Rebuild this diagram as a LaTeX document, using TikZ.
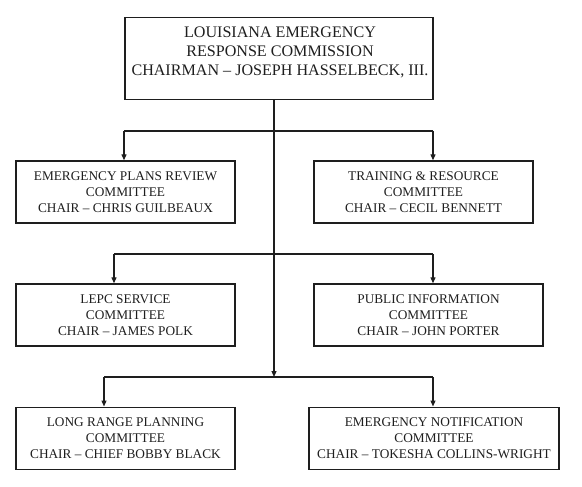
\documentclass[tikz,border=0pt]{standalone}
\usepackage{fontspec}
\setmainfont{Liberation Serif}
\usetikzlibrary{arrows.meta}
\definecolor{ink}{HTML}{1E1E1E}
\begin{document}
\begin{tikzpicture}[x=1pt,y=-1pt,
  box/.style={draw=ink,line width=1.4pt,inner sep=0pt,align=center,
    font=\fontsize{13.3}{16}\selectfont,text=ink,minimum height=62pt},
  link/.style={draw=ink,line width=1.2pt},
  arr/.style={link,-{Triangle[length=6pt,width=5pt]}}]
\useasboundingbox (0,0) rectangle (582,487);
% top box
\node[draw=ink,line width=1.4pt,inner sep=0pt,minimum width=308pt,minimum height=82pt] (top) at (279,58.8) {};
\node[font=\fontsize{16.1}{19}\selectfont,align=center,text=ink,inner sep=0pt,anchor=north] (toptext) at (280,27)
  {LOUISIANA EMERGENCY\\RESPONSE COMMISSION\\CHAIRMAN -- JOSEPH HASSELBECK, III.};
% committees
\node[box,minimum width=219pt] (epr) at (125.5,192)
  {EMERGENCY PLANS REVIEW\\COMMITTEE\\CHAIR -- CHRIS GUILBEAUX};
\node[box,minimum width=219pt] (trc) at (423.5,192)
  {TRAINING \& RESOURCE\\COMMITTEE\\CHAIR -- CECIL BENNETT};
\node[box,minimum width=219pt] (lepc) at (125.5,315)
  {LEPC SERVICE\\COMMITTEE\\CHAIR -- JAMES POLK};
\node[box,minimum width=229pt] (pic) at (428.5,315)
  {PUBLIC INFORMATION\\COMMITTEE\\CHAIR -- JOHN PORTER};
\node[box,minimum width=219pt] (lrp) at (125.5,438.2)
  {LONG RANGE PLANNING\\COMMITTEE\\CHAIR -- CHIEF BOBBY BLACK};
\node[box,minimum width=250pt] (enc) at (434,438.2)
  {EMERGENCY NOTIFICATION\\COMMITTEE\\CHAIR -- TOKESHA COLLINS-WRIGHT};
% junction coordinates
\coordinate (trunk) at (274,377);
\coordinate (b1l) at (124,131); \coordinate (b1r) at (433,131);
\coordinate (b2l) at (114,254); \coordinate (b2r) at (433,254);
\coordinate (b3l) at (104,377); \coordinate (b3r) at (433,377);
% connectors
\draw[arr] (top.south -| trunk) -- (trunk);
\draw[link] (b1l) -- (b1r);
\draw[link] (b2l) -- (b2r);
\draw[link] (b3l) -- (b3r);
\draw[arr] (b1l) -- (b1l |- epr.north);
\draw[arr] (b1r) -- (b1r |- trc.north);
\draw[arr] (b2l) -- (b2l |- lepc.north);
\draw[arr] (b2r) -- (b2r |- pic.north);
\draw[arr] (b3l) -- (b3l |- lrp.north);
\draw[arr] (b3r) -- (b3r |- enc.north);
\end{tikzpicture}
\end{document}
